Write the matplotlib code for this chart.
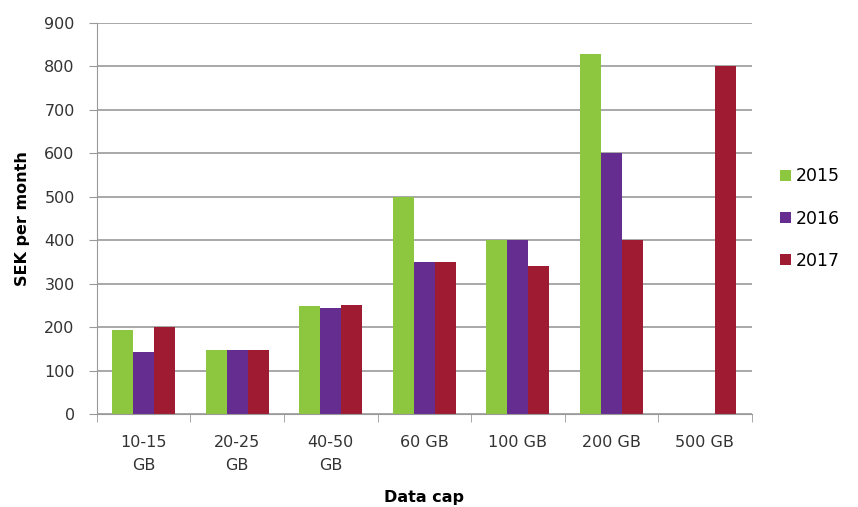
import numpy as np
import matplotlib.pyplot as plt

# Data
categories = ["10-15\nGB", "20-25\nGB", "40-50\nGB", "60 GB", "100 GB", "200 GB", "500 GB"]
years = ["2015", "2016", "2017"]
sek_2015 = [193, 148, 248, 500, 400, 828, 0]
sek_2016 = [143, 148, 245, 350, 400, 600, 0]
sek_2017 = [200, 148, 250, 350, 340, 400, 800]

colors = ["#8dc63f", "#662d91", "#9e1b32"]

plt.rcParams["font.family"] = ["DejaVu Sans"]

fig = plt.figure(figsize=(8.58, 5.07), dpi=100)
ax = fig.add_axes([0.113, 0.183, 0.763, 0.772])

x = np.arange(len(categories))
w = 0.225
for i, (vals, lab) in enumerate(zip([sek_2015, sek_2016, sek_2017], years)):
    ax.bar(x + (i - 1) * w, vals, width=w, color=colors[i], label=lab, zorder=2)

ax.set_xlim(-0.5, len(categories) - 0.5)
ax.set_ylim(0, 900)
ax.set_yticks(range(0, 901, 100))
ax.yaxis.grid(True, color="#999999", linewidth=1.2, zorder=0)
ax.set_axisbelow(True)

# category labels centred, ticks at boundaries
ax.set_xticks(x)
ax.set_xticklabels(categories, fontsize=11.5, color="#333333", linespacing=1.65, va="top")
ax.tick_params(axis="x", length=0, pad=15)
ax.set_xticks(np.arange(-0.5, len(categories), 1), minor=True)
ax.tick_params(axis="x", which="minor", length=6, color="#999999")
ax.tick_params(axis="y", length=6, color="#999999", labelsize=11.5, labelcolor="#333333", pad=10)

for s in ["top", "right"]:
    ax.spines[s].set_visible(False)
for s in ["left", "bottom"]:
    ax.spines[s].set_color("#999999")

ax.set_xlabel("Data cap", fontsize=11.5, fontweight="bold", labelpad=12)
ax.set_ylabel("SEK per month", fontsize=11.5, fontweight="bold", labelpad=10)

ax.legend(loc="center left", bbox_to_anchor=(1.02, 0.5), frameon=False,
          fontsize=12.5, handlelength=0.6, handleheight=0.6, handletextpad=0.3,
          labelspacing=1.4)

fig.savefig("out.png", dpi=100)
